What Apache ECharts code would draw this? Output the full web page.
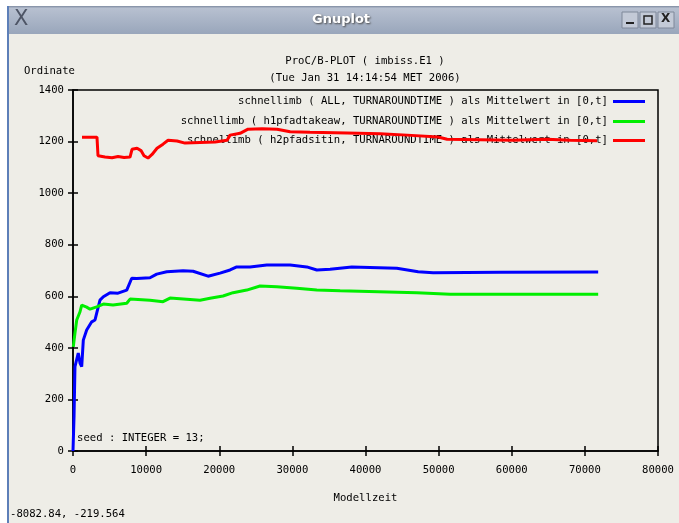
<!DOCTYPE html>
<html>
<head>
<meta charset="utf-8">
<script src="https://cdn.jsdelivr.net/npm/echarts@6/dist/echarts.min.js"></script>
<style>
  html, body { margin: 0; padding: 0; background: #ffffff; }
  #chart { width: 679px; height: 523px; }
</style>
</head>
<body>
<div id="chart"></div>
<script>
// Series names as shown in the legend
const seriesNames = [
  'schnellimb ( ALL, TURNAROUNDTIME ) als Mittelwert in [0,t]',
  'schnellimb ( h1pfadtakeaw, TURNAROUNDTIME ) als Mittelwert in [0,t]',
  'schnellimb ( h2pfadsitin, TURNAROUNDTIME ) als Mittelwert in [0,t]'
];

// [Modellzeit, value] pairs
const allData = [
  [0, 0], [140, 133], [270, 327], [720, 380], [960, 341], [1190, 327], [1410, 430],
  [1870, 469], [2560, 501], [3010, 508], [3240, 535], [3690, 585], [4150, 598],
  [5060, 614], [6160, 612], [7350, 624], [8030, 670], [8710, 669], [10530, 672],
  [11450, 686], [12820, 695], [15050, 699], [16420, 697], [18470, 678], [20110, 690],
  [21480, 702], [22390, 714], [24210, 714], [26500, 721], [29690, 721], [31970, 714],
  [33340, 702], [35160, 705], [38130, 714], [44280, 709], [47200, 695], [49250, 691],
  [58410, 693], [71820, 694]
];

const takeawData = [
  [40, 404], [270, 457], [510, 508], [960, 540], [1190, 566], [1870, 558], [2330, 550],
  [3240, 559], [4150, 570], [5470, 566], [7350, 573], [7800, 589], [10530, 585],
  [12310, 579], [13270, 593], [17370, 585], [18740, 592], [20520, 601], [21890, 614],
  [23760, 624], [25580, 640], [27870, 637], [30600, 631], [33340, 624], [36530, 621],
  [47020, 614], [51570, 608], [71820, 608]
];

const sitinData = [
  [1230, 1217], [3280, 1217], [3420, 1145], [4380, 1140], [5340, 1137], [6160, 1142],
  [6980, 1138], [7800, 1140], [8070, 1170], [8760, 1174], [9300, 1165], [9710, 1145],
  [10260, 1136], [10810, 1150], [11490, 1174], [12310, 1190], [13000, 1205], [14230, 1202],
  [15320, 1194], [17370, 1196], [19430, 1198], [21070, 1205], [21480, 1225], [22850, 1232],
  [23940, 1248], [25860, 1250], [27910, 1248], [29690, 1238], [32420, 1236], [37480, 1233],
  [42000, 1230], [45690, 1225], [49930, 1218], [51160, 1209], [55680, 1207], [60190, 1205],
  [64840, 1209], [67990, 1205], [71680, 1203]
];

const seriesData = [allData, takeawData, sitinData];
const seriesColors = ['#0000ff', '#00ee00', '#ff0000'];
const legendCenters = [103, 123, 142];

const monoFont = '"DejaVu Sans Mono", "Liberation Mono", monospace';

const chart = echarts.init(document.getElementById('chart'));

// plain numbers, no thousands separator
const plain = (v) => String(v);

const option = {
  backgroundColor: '#eeede7',
  animation: false,
  textStyle: { fontFamily: monoFont },
  grid: { left: 73, right: 21, top: 90, bottom: 72, show: true, borderColor: '#000', borderWidth: 1.5 },
  legend: seriesNames.map((name, i) => ({
    data: [name],
    right: 34,
    top: legendCenters[i] - 7,
    padding: 0,
    align: 'right',
    icon: 'rect',
    itemWidth: 32,
    itemHeight: 3,
    selectedMode: false,
    z: 4,
    textStyle: { fontFamily: monoFont, fontSize: 10.6, color: '#000' }
  })),
  xAxis: [
    {
      type: 'value', min: 0, max: 80000, interval: 10000,
      name: 'Modellzeit', nameLocation: 'middle', nameGap: 42,
      nameTextStyle: { fontFamily: monoFont, fontSize: 10.6, color: '#000' },
      axisLine: { lineStyle: { color: '#000', width: 1.5 } },
      axisTick: { inside: true, length: 5, lineStyle: { color: '#000', width: 1.5 } },
      axisLabel: { margin: 14, fontFamily: monoFont, fontSize: 10.6, color: '#000', formatter: plain },
      splitLine: { show: false }
    },
    {
      type: 'value', min: 0, max: 80000, interval: 10000, position: 'top',
      axisLine: { show: false },
      axisTick: { inside: true, length: 5, lineStyle: { color: '#000', width: 1.5 } },
      axisLabel: { show: false },
      splitLine: { show: false }
    }
  ],
  yAxis: [
    {
      type: 'value', min: 0, max: 1400, interval: 200,
      name: 'Ordinate', nameLocation: 'end', nameGap: 13,
      nameTextStyle: { fontFamily: monoFont, fontSize: 10.6, color: '#000', align: 'right', padding: [0, -2, 0, 0] },
      axisLine: { show: true, lineStyle: { color: '#000', width: 1.5 } },
      axisTick: { show: true, inside: true, length: 5, lineStyle: { color: '#000', width: 1.5 } },
      axisLabel: { margin: 9, fontFamily: monoFont, fontSize: 10.6, color: '#000', formatter: plain },
      splitLine: { show: false }
    },
    {
      type: 'value', min: 0, max: 1400, interval: 200, position: 'right',
      axisLine: { show: false },
      axisTick: { show: true, inside: true, length: 5, lineStyle: { color: '#000', width: 1.5 } },
      axisLabel: { show: false },
      splitLine: { show: false }
    }
  ],
  series: seriesNames.map((name, i) => ({
    name: name,
    type: 'line',
    data: seriesData[i],
    showSymbol: false,
    symbol: 'none',
    color: seriesColors[i],
    lineStyle: { width: 3, color: seriesColors[i] },
    // the red curve runs across the legend text in the original
    z: i === 2 ? 6 : 3
  })),
  graphic: [
    // window frame and title bar
    { type: 'rect', shape: { x: 0, y: 0, width: 679, height: 6 }, style: { fill: '#ffffff' }, silent: true },
    { type: 'rect', shape: { x: 0, y: 0, width: 7, height: 523 }, style: { fill: '#ffffff' }, silent: true },
    { type: 'rect', shape: { x: 7, y: 6, width: 2, height: 517 }, style: { fill: '#5d7fb8' }, silent: true },
    {
      type: 'rect', shape: { x: 9, y: 6, width: 670, height: 28 }, silent: true,
      style: {
        fill: new echarts.graphic.LinearGradient(0, 0, 0, 1, [
          { offset: 0, color: '#7d8aa0' },
          { offset: 0.08, color: '#b7c0d0' },
          { offset: 1, color: '#99a6bb' }
        ])
      }
    },
    {
      type: 'text', silent: true,
      style: {
        x: 341, y: 13, text: 'Gnuplot', fill: '#ffffff', fontSize: 13, fontWeight: 'bold', align: 'center',
        fontFamily: '"DejaVu Sans", sans-serif', textShadowColor: '#444', textShadowBlur: 2,
        textShadowOffsetX: 1, textShadowOffsetY: 1
      }
    },
    {
      type: 'text', silent: true,
      style: { x: 14, y: 9, text: 'X', fill: '#4e5566', fontSize: 21, fontFamily: '"DejaVu Sans", sans-serif' }
    },
    { type: 'rect', shape: { x: 622, y: 12, width: 16, height: 16 }, style: { fill: '#c3cad7', stroke: '#7f8899' }, silent: true },
    { type: 'rect', shape: { x: 640, y: 12, width: 16, height: 16 }, style: { fill: '#c3cad7', stroke: '#7f8899' }, silent: true },
    { type: 'rect', shape: { x: 658, y: 12, width: 16, height: 16 }, style: { fill: '#c3cad7', stroke: '#7f8899' }, silent: true },
    { type: 'rect', shape: { x: 626, y: 22, width: 8, height: 2 }, style: { fill: '#222' }, silent: true },
    { type: 'rect', shape: { x: 644, y: 16, width: 8, height: 8 }, style: { fill: 'none', stroke: '#222', lineWidth: 1.5 }, silent: true },
    {
      type: 'text', silent: true,
      style: { x: 661, y: 13, text: 'X', fill: '#222', fontSize: 12, fontWeight: 'bold', fontFamily: '"DejaVu Sans", sans-serif' }
    },
    // plot title
    {
      type: 'text', silent: true,
      style: { x: 365, y: 56, text: 'ProC/B-PLOT ( imbiss.E1 )', fill: '#000', fontSize: 10.6, fontFamily: monoFont, align: 'center' }
    },
    {
      type: 'text', silent: true,
      style: { x: 365, y: 73, text: '(Tue Jan 31 14:14:54 MET 2006)', fill: '#000', fontSize: 10.6, fontFamily: monoFont, align: 'center' }
    },
    {
      type: 'text', silent: true, z: 10,
      style: { x: 77, y: 433, text: 'seed : INTEGER = 13;', fill: '#000', fontSize: 10.6, fontFamily: monoFont }
    },
    {
      type: 'text', silent: true,
      style: { x: 10, y: 509, text: '-8082.84, -219.564', fill: '#000', fontSize: 10.6, fontFamily: monoFont }
    }
  ]
};

chart.setOption(option);
</script>
</body>
</html>
